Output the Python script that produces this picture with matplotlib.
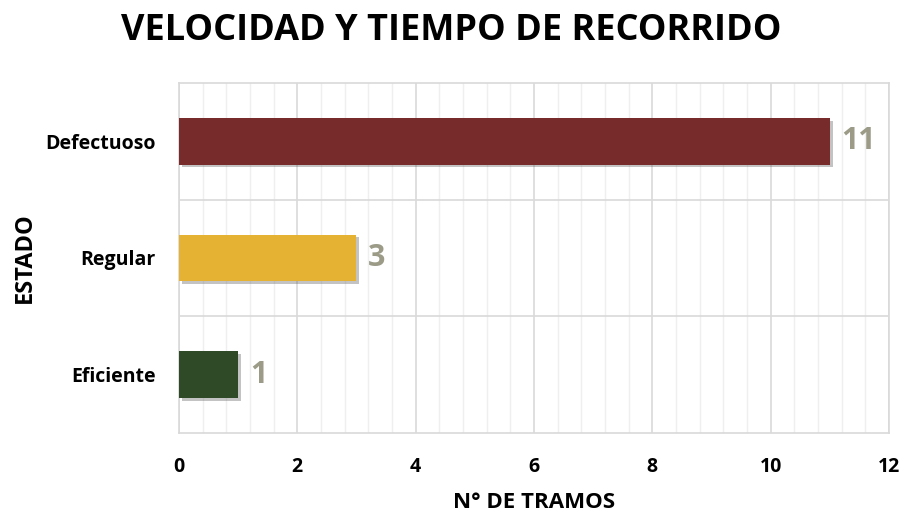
import matplotlib.pyplot as plt
import matplotlib.patheffects as pe
from matplotlib.ticker import MultipleLocator

estados = ['Eficiente', 'Regular', 'Defectuoso']
tramos = [1, 3, 11]
colores = ['#2F4A27', '#E5B233', '#772B2B']

plt.rcParams['font.family'] = ['Open Sans', 'DejaVu Sans']

fig = plt.figure(figsize=(9.03, 5.13), dpi=100)
ax = fig.add_axes([179/903, 1-433/513, (889-179)/903, (433-83)/513])

bars = ax.barh(estados, tramos, height=0.4, color=colores, zorder=3)
for b in bars:
    b.set_path_effects([pe.SimplePatchShadow(offset=(2, -2), shadow_rgbFace='#555555', alpha=0.35), pe.Normal()])

for b, v in zip(bars, tramos):
    ax.text(v + 0.2, b.get_y() + b.get_height()/2, str(v), va='center', ha='left',
            fontsize=22, fontweight='bold', color='#9B9B88')

ax.set_xlim(0, 12)
ax.set_ylim(-0.5, 2.5)
ax.xaxis.set_major_locator(MultipleLocator(2))
ax.xaxis.set_minor_locator(MultipleLocator(0.4))
ax.set_yticks([0.5, 1.5], minor=True)
ax.grid(axis='x', which='major', color='#D9D9D9', lw=1.2, zorder=0)
ax.grid(axis='x', which='minor', color='#EFEFEF', lw=1, zorder=0)
ax.grid(axis='y', which='minor', color='#D9D9D9', lw=1.2, zorder=0)
for s in ax.spines.values():
    s.set_color('#D9D9D9')
    s.set_linewidth(1.2)
ax.tick_params(which='both', length=0)
ax.tick_params(axis='x', pad=17)
ax.tick_params(axis='y', pad=17)
for lab in ax.get_xticklabels() + ax.get_yticklabels():
    lab.set_fontsize(14)
    lab.set_fontweight('bold')

ax.set_xlabel('N° DE TRAMOS', fontsize=16, fontweight='bold', labelpad=11)
ax.set_ylabel('ESTADO', fontsize=17, fontweight='bold', labelpad=6)
fig.suptitle('VELOCIDAD Y TIEMPO DE RECORRIDO', fontsize=26, fontweight='bold', y=1-31/513, va='center')

fig.savefig('out.png', dpi=100)
